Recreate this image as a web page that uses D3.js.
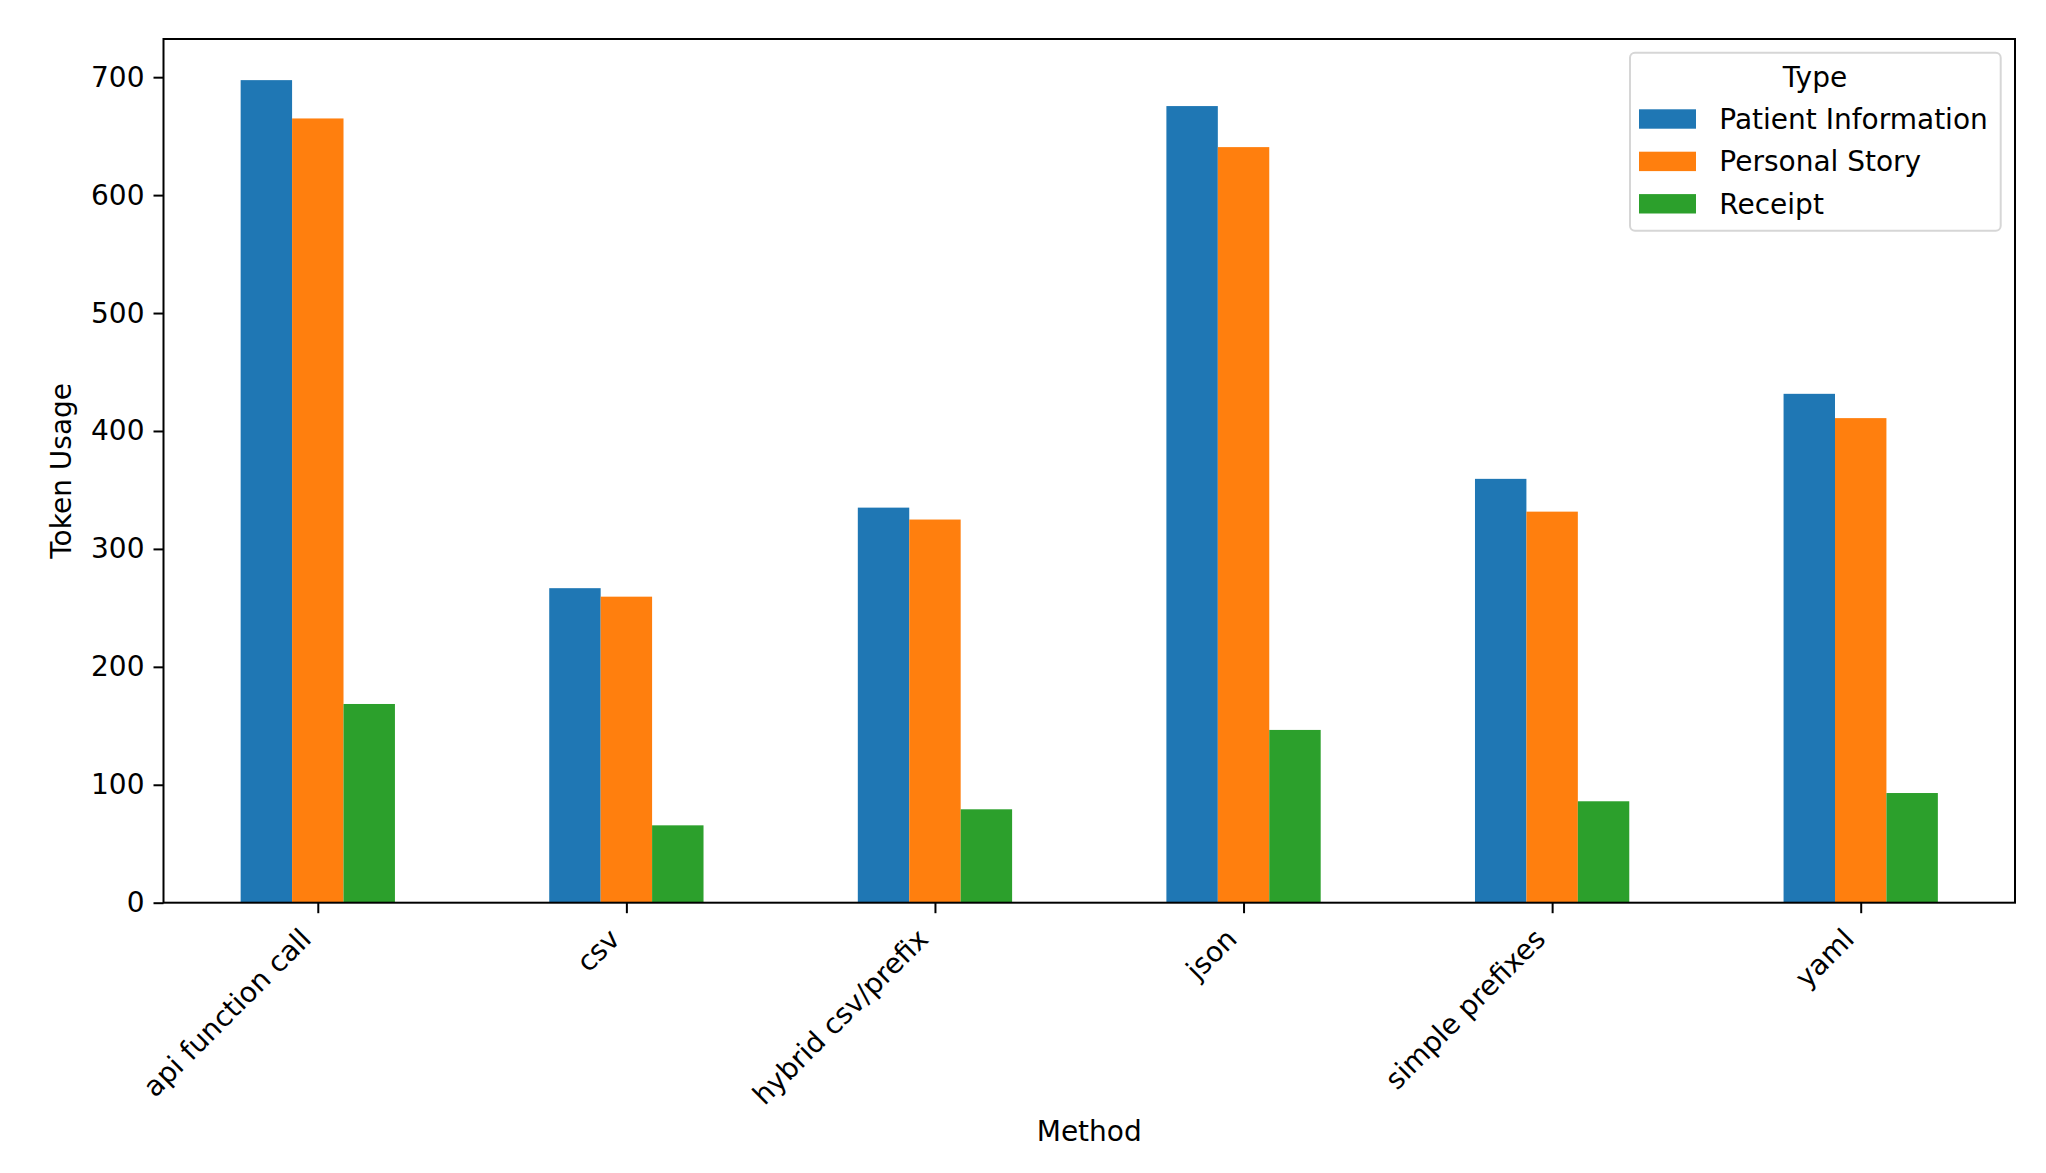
<!DOCTYPE html>
<html><head><meta charset="utf-8">
<script src="https://cdn.jsdelivr.net/npm/d3@7"></script>
<style>body{margin:0;background:#fff;} text{font-family:"DejaVu Sans",sans-serif;}</style>
</head><body><svg id="c" width="2046" height="1173"></svg>
<script>
const categories = ["api function call","csv","hybrid csv/prefix","json","simple prefixes","yaml"];
const seriesNames = ["Patient Information","Personal Story","Receipt"];
const patientInfo = [697.5, 266.7, 335.0, 675.5, 359.4, 431.5];
const personalStory = [665.0, 259.5, 324.9, 640.7, 331.6, 410.9];
const receipt = [168.5, 65.6, 79.2, 146.5, 86.0, 93.0];
const yTicks = [0,100,200,300,400,500,600,700];
const colors = ["#1f77b4","#ff7f0e","#2ca02c"];
const seriesValues = [patientInfo, personalStory, receipt];

const svg = d3.select("#c");
const L=163.5, R=2015, T=39, B=902.7;
const fs = 28;
const maxV = d3.max(seriesValues.flat());
const x = d3.scaleLinear().domain([-0.5, categories.length-0.5]).range([L,R]);
const y = d3.scaleLinear().domain([0, maxV*1.05]).range([B,T]);
const bw = 0.5/3;

// bars
seriesValues.forEach((vals,si)=>{
  svg.append("g").selectAll("rect").data(vals).join("rect")
    .attr("x",(d,i)=>x(i-0.25+si*bw))
    .attr("width",x(bw)-x(0))
    .attr("y",d=>y(d))
    .attr("height",d=>y(0)-y(d))
    .attr("fill",colors[si]);
});

// y axis
const yAxis = svg.append("g").attr("transform",`translate(${L},0)`)
  .call(d3.axisLeft(y).tickValues(yTicks).tickSize(10).tickPadding(9).tickFormat(d3.format("d")));
yAxis.select(".domain").remove();
yAxis.selectAll("line").attr("stroke","#000").attr("stroke-width",2);
yAxis.selectAll("text").attr("font-size",fs).attr("fill","#000").style("font-family","DejaVu Sans");

// x axis
const xAxis = svg.append("g").attr("transform",`translate(0,${B})`)
  .call(d3.axisBottom(x).tickValues(d3.range(categories.length)).tickSize(10.5).tickFormat(i=>categories[i]));
xAxis.select(".domain").remove();
xAxis.selectAll("line").attr("stroke","#000").attr("stroke-width",2);
xAxis.selectAll("text").attr("font-size",fs).attr("fill","#000").style("font-family","DejaVu Sans")
  .attr("text-anchor","end").attr("y",null).attr("dy",null)
  .attr("transform","translate(-5.5,38) rotate(-45)");

// frame
svg.append("rect").attr("x",L).attr("y",T).attr("width",R-L).attr("height",B-T)
  .attr("fill","none").attr("stroke","#000").attr("stroke-width",2);

// axis labels
svg.append("text").attr("x",(L+R)/2).attr("y",1141).attr("text-anchor","middle")
  .attr("font-size",fs).attr("fill","#000").text("Method");
svg.append("text").attr("transform",`translate(71,${(T+B)/2}) rotate(-90)`).attr("text-anchor","middle")
  .attr("font-size",fs).attr("fill","#000").text("Token Usage");

// legend
const lg = svg.append("g");
lg.append("rect").attr("x",1630).attr("y",52.7).attr("width",370.7).attr("height",178).attr("rx",5)
  .attr("fill","#fff").attr("fill-opacity",0.8).attr("stroke","#d6d6d6").attr("stroke-width",2);
lg.append("text").attr("x",1815).attr("y",86.7).attr("text-anchor","middle").attr("font-size",fs).attr("fill","#000").text("Type");
seriesNames.forEach((n,i)=>{
  const yy = 109.3 + i*42.4;
  lg.append("rect").attr("x",1639).attr("y",yy).attr("width",57).attr("height",19.4).attr("fill",colors[i]);
  lg.append("text").attr("x",1719.3).attr("y",yy+19.4).attr("font-size",fs).attr("fill","#000").text(n);
});
</script></body></html>
